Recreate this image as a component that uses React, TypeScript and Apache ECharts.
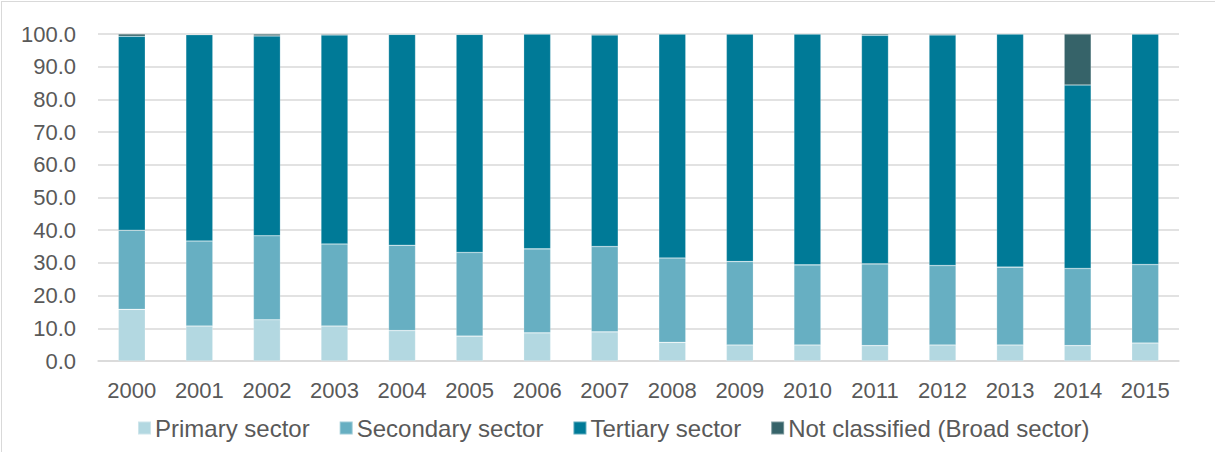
import React, { useEffect, useRef } from "react";
import * as echarts from "echarts";

const years = ["2000","2001","2002","2003","2004","2005","2006","2007","2008","2009","2010","2011","2012","2013","2014","2015"];
const primary = [15.8, 10.7, 12.6, 10.7, 9.3, 7.6, 8.6, 8.9, 5.7, 4.9, 4.9, 4.7, 4.9, 4.9, 4.7, 5.5];
const secondary = [24.2, 26.0, 25.7, 25.1, 26.1, 25.6, 25.7, 26.1, 25.8, 25.5, 24.5, 25.0, 24.3, 23.8, 23.6, 24.0];
const tertiary = [59.3, 63.1, 61.1, 63.9, 64.5, 66.7, 65.7, 64.7, 68.5, 69.6, 70.6, 69.9, 70.5, 71.3, 56.1, 70.5];
const notClassified = [0.7, 0.2, 0.6, 0.3, 0.1, 0.1, 0.0, 0.3, 0.0, 0.0, 0.0, 0.4, 0.3, 0.0, 15.6, 0.0];

const seriesNames = ["Primary sector", "Secondary sector", "Tertiary sector", "Not classified (Broad sector)"];
const seriesColors = ["#B3D8E1", "#67AFC2", "#007A97", "#366369"];
const seriesData = [primary, secondary, tertiary, notClassified];

const FONT = "'Liberation Sans', Arial, sans-serif";
const TEXT_COLOR = "#595959";

export default function App() {
  const ref = useRef<HTMLDivElement>(null);
  useEffect(() => {
    if (!ref.current) return;
    const chart = echarts.init(ref.current, undefined, { renderer: "svg" });
    chart.setOption({
      animation: false,
      backgroundColor: "#ffffff",
      grid: { left: 98, right: 36, top: 34, bottom: 91, containLabel: false },
      legend: {
        bottom: 7,
        left: 132,
        itemWidth: 13,
        itemHeight: 13,
        itemGap: 29,
        icon: "rect",
        textStyle: { fontFamily: FONT, fontSize: 24, color: TEXT_COLOR, padding: [0, 0, 0, -1] },
        data: seriesNames,
      },
      xAxis: {
        type: "category",
        data: years,
        axisTick: { show: false },
        axisLine: { lineStyle: { color: "#D9D9D9", width: 1.5 } },
        axisLabel: { fontFamily: FONT, fontSize: 22, color: TEXT_COLOR, margin: 18 },
      },
      yAxis: {
        type: "value",
        min: 0,
        max: 100,
        interval: 10,
        axisLine: { show: false },
        axisTick: { show: false },
        splitLine: { lineStyle: { color: "#D9D9D9", width: 1.5 } },
        axisLabel: {
          fontFamily: FONT,
          fontSize: 22,
          color: TEXT_COLOR,
          margin: 22,
          formatter: (v: number) => v.toFixed(1),
        },
      },
      series: seriesNames.map((name, i) => ({
        name,
        type: "bar",
        stack: "total",
        barWidth: 27,
        data: seriesData[i],
        itemStyle: { color: seriesColors[i], borderColor: "rgba(255,255,255,0.35)", borderWidth: 0.6 },
      })),
    });
    return () => chart.dispose();
  }, []);

  return (
    <div style={{ position: "absolute", left: 0, top: 0, width: 1215, height: 452, overflow: "hidden", background: "#fff" }}>
      <div ref={ref} style={{ position: "absolute", left: 0, top: 0, width: 1215, height: 452 }} />
      <div
        style={{
          position: "absolute",
          left: 1,
          top: 1,
          width: 1300,
          height: 500,
          borderTop: "1.5px solid #D9D9D9",
          borderLeft: "1.5px solid #D9D9D9",
          pointerEvents: "none",
        }}
      />
    </div>
  );
}
